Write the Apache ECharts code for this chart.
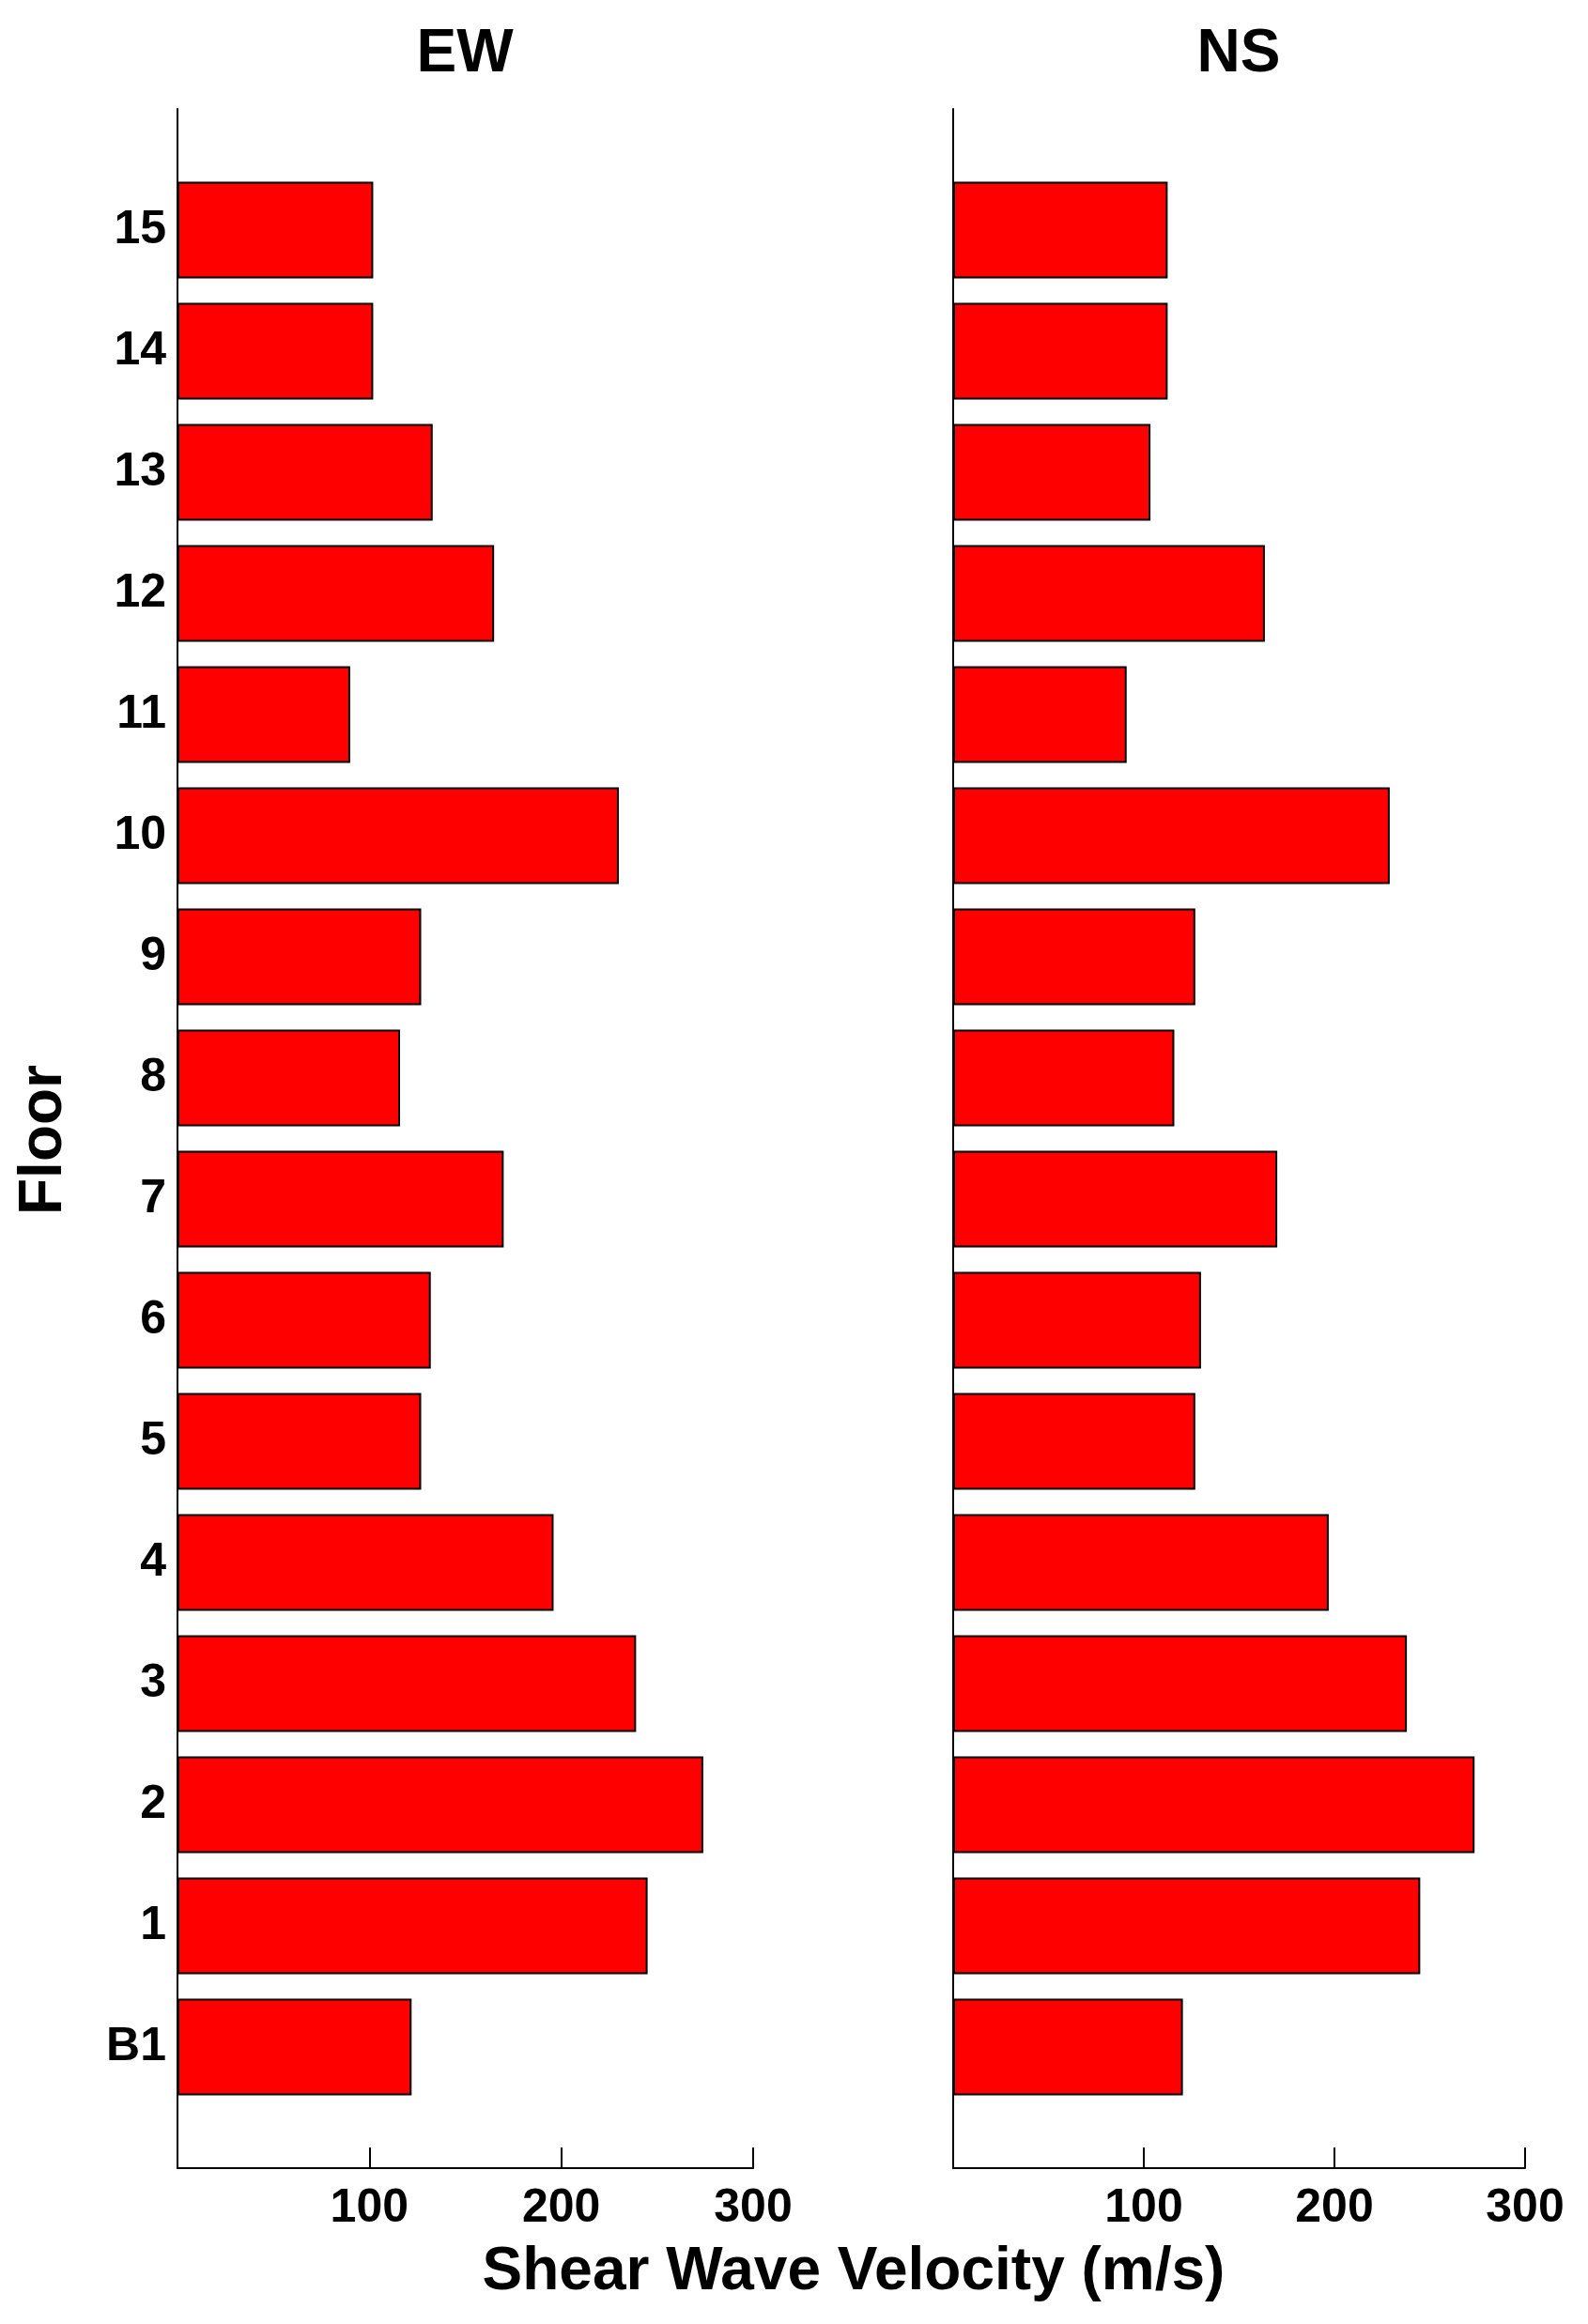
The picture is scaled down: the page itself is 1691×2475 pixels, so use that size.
<!DOCTYPE html>
<html>
<head>
<meta charset="utf-8">
<script src="https://cdn.jsdelivr.net/npm/echarts@6/dist/echarts.min.js"></script>
<style>
  html, body { margin: 0; padding: 0; background: #fff; }
  #chart { width: 1691px; height: 2475px; }
</style>
</head>
<body>
<div id="chart"></div>
<script>
// floors bottom to top
const floors = ['B1', '1', '2', '3', '4', '5', '6', '7', '8', '9', '10', '11', '12', '13', '14', '15'];
const ewVelocity = [122, 245, 274, 239, 196, 127, 132, 170, 116, 127, 230, 90, 165, 133, 102, 102];
const nsVelocity = [120.5, 245, 273.5, 238, 197, 127, 130, 170, 116, 127, 229, 91, 163.5, 103.5, 112.5, 112.5];
const xTicks = [0, 100, 200, 300];

const font = '"Liberation Sans", Arial, sans-serif';

// pad one empty slot at each end, like the original plot limits
const yCats = [''].concat(floors, ['']);
const pad = (arr) => [null].concat(arr, [null]);

const chart = echarts.init(document.getElementById('chart'));

const makeX = (gridIndex) => ({
  type: 'value',
  gridIndex,
  min: xTicks[0],
  max: xTicks[xTicks.length - 1],
  interval: 100,
  splitLine: { show: false },
  axisLine: { show: true, lineStyle: { color: '#000', width: 2 } },
  axisTick: { show: true, inside: true, length: 22, lineStyle: { color: '#000', width: 2 } },
  axisLabel: {
    color: '#000', fontFamily: font, fontWeight: 'bold', fontSize: 50, margin: 18,
    formatter: (v) => (v === 0 ? '' : String(v)),
  },
});

const makeY = (gridIndex, showLabels) => ({
  type: 'category',
  gridIndex,
  data: yCats,
  boundaryGap: false,
  axisLine: { show: true, lineStyle: { color: '#000', width: 2 } },
  axisTick: { show: false },
  splitLine: { show: false },
  axisLabel: {
    show: showLabels, interval: 0, color: '#000', fontFamily: font,
    fontWeight: 'bold', fontSize: 50, margin: 12,
  },
});

const barStyle = { color: '#ff0000', borderColor: '#000', borderWidth: 2 };

const option = {
  backgroundColor: '#fff',
  animation: false,
  grid: [
    { left: 189, right: 889, top: 116, bottom: 166 },
    { left: 1015, right: 67, top: 116, bottom: 166 },
  ],
  xAxis: [makeX(0), makeX(1)],
  yAxis: [makeY(0, true), makeY(1, false)],
  series: [
    { name: 'EW', type: 'bar', xAxisIndex: 0, yAxisIndex: 0, data: pad(ewVelocity), barWidth: '80%', itemStyle: barStyle },
    { name: 'NS', type: 'bar', xAxisIndex: 1, yAxisIndex: 1, data: pad(nsVelocity), barWidth: '80%', itemStyle: barStyle },
  ],
  graphic: [
    { type: 'text', x: 495, y: 58, style: { text: 'EW', font: 'bold 64px ' + font, fill: '#000', align: 'center', verticalAlign: 'middle' } },
    { type: 'text', x: 1319, y: 58, style: { text: 'NS', font: 'bold 64px ' + font, fill: '#000', align: 'center', verticalAlign: 'middle' } },
    { type: 'text', x: 909, y: 2420, style: { text: 'Shear Wave Velocity (m/s)', font: 'bold 64px ' + font, fill: '#000', align: 'center', verticalAlign: 'middle' } },
    { type: 'text', x: 47, y: 1214, rotation: Math.PI / 2, style: { text: 'Floor', font: 'bold 64px ' + font, fill: '#000', align: 'center', verticalAlign: 'middle' } },
  ],
};

chart.setOption(option);
window.addEventListener('resize', () => chart.resize());
</script>
</body>
</html>
